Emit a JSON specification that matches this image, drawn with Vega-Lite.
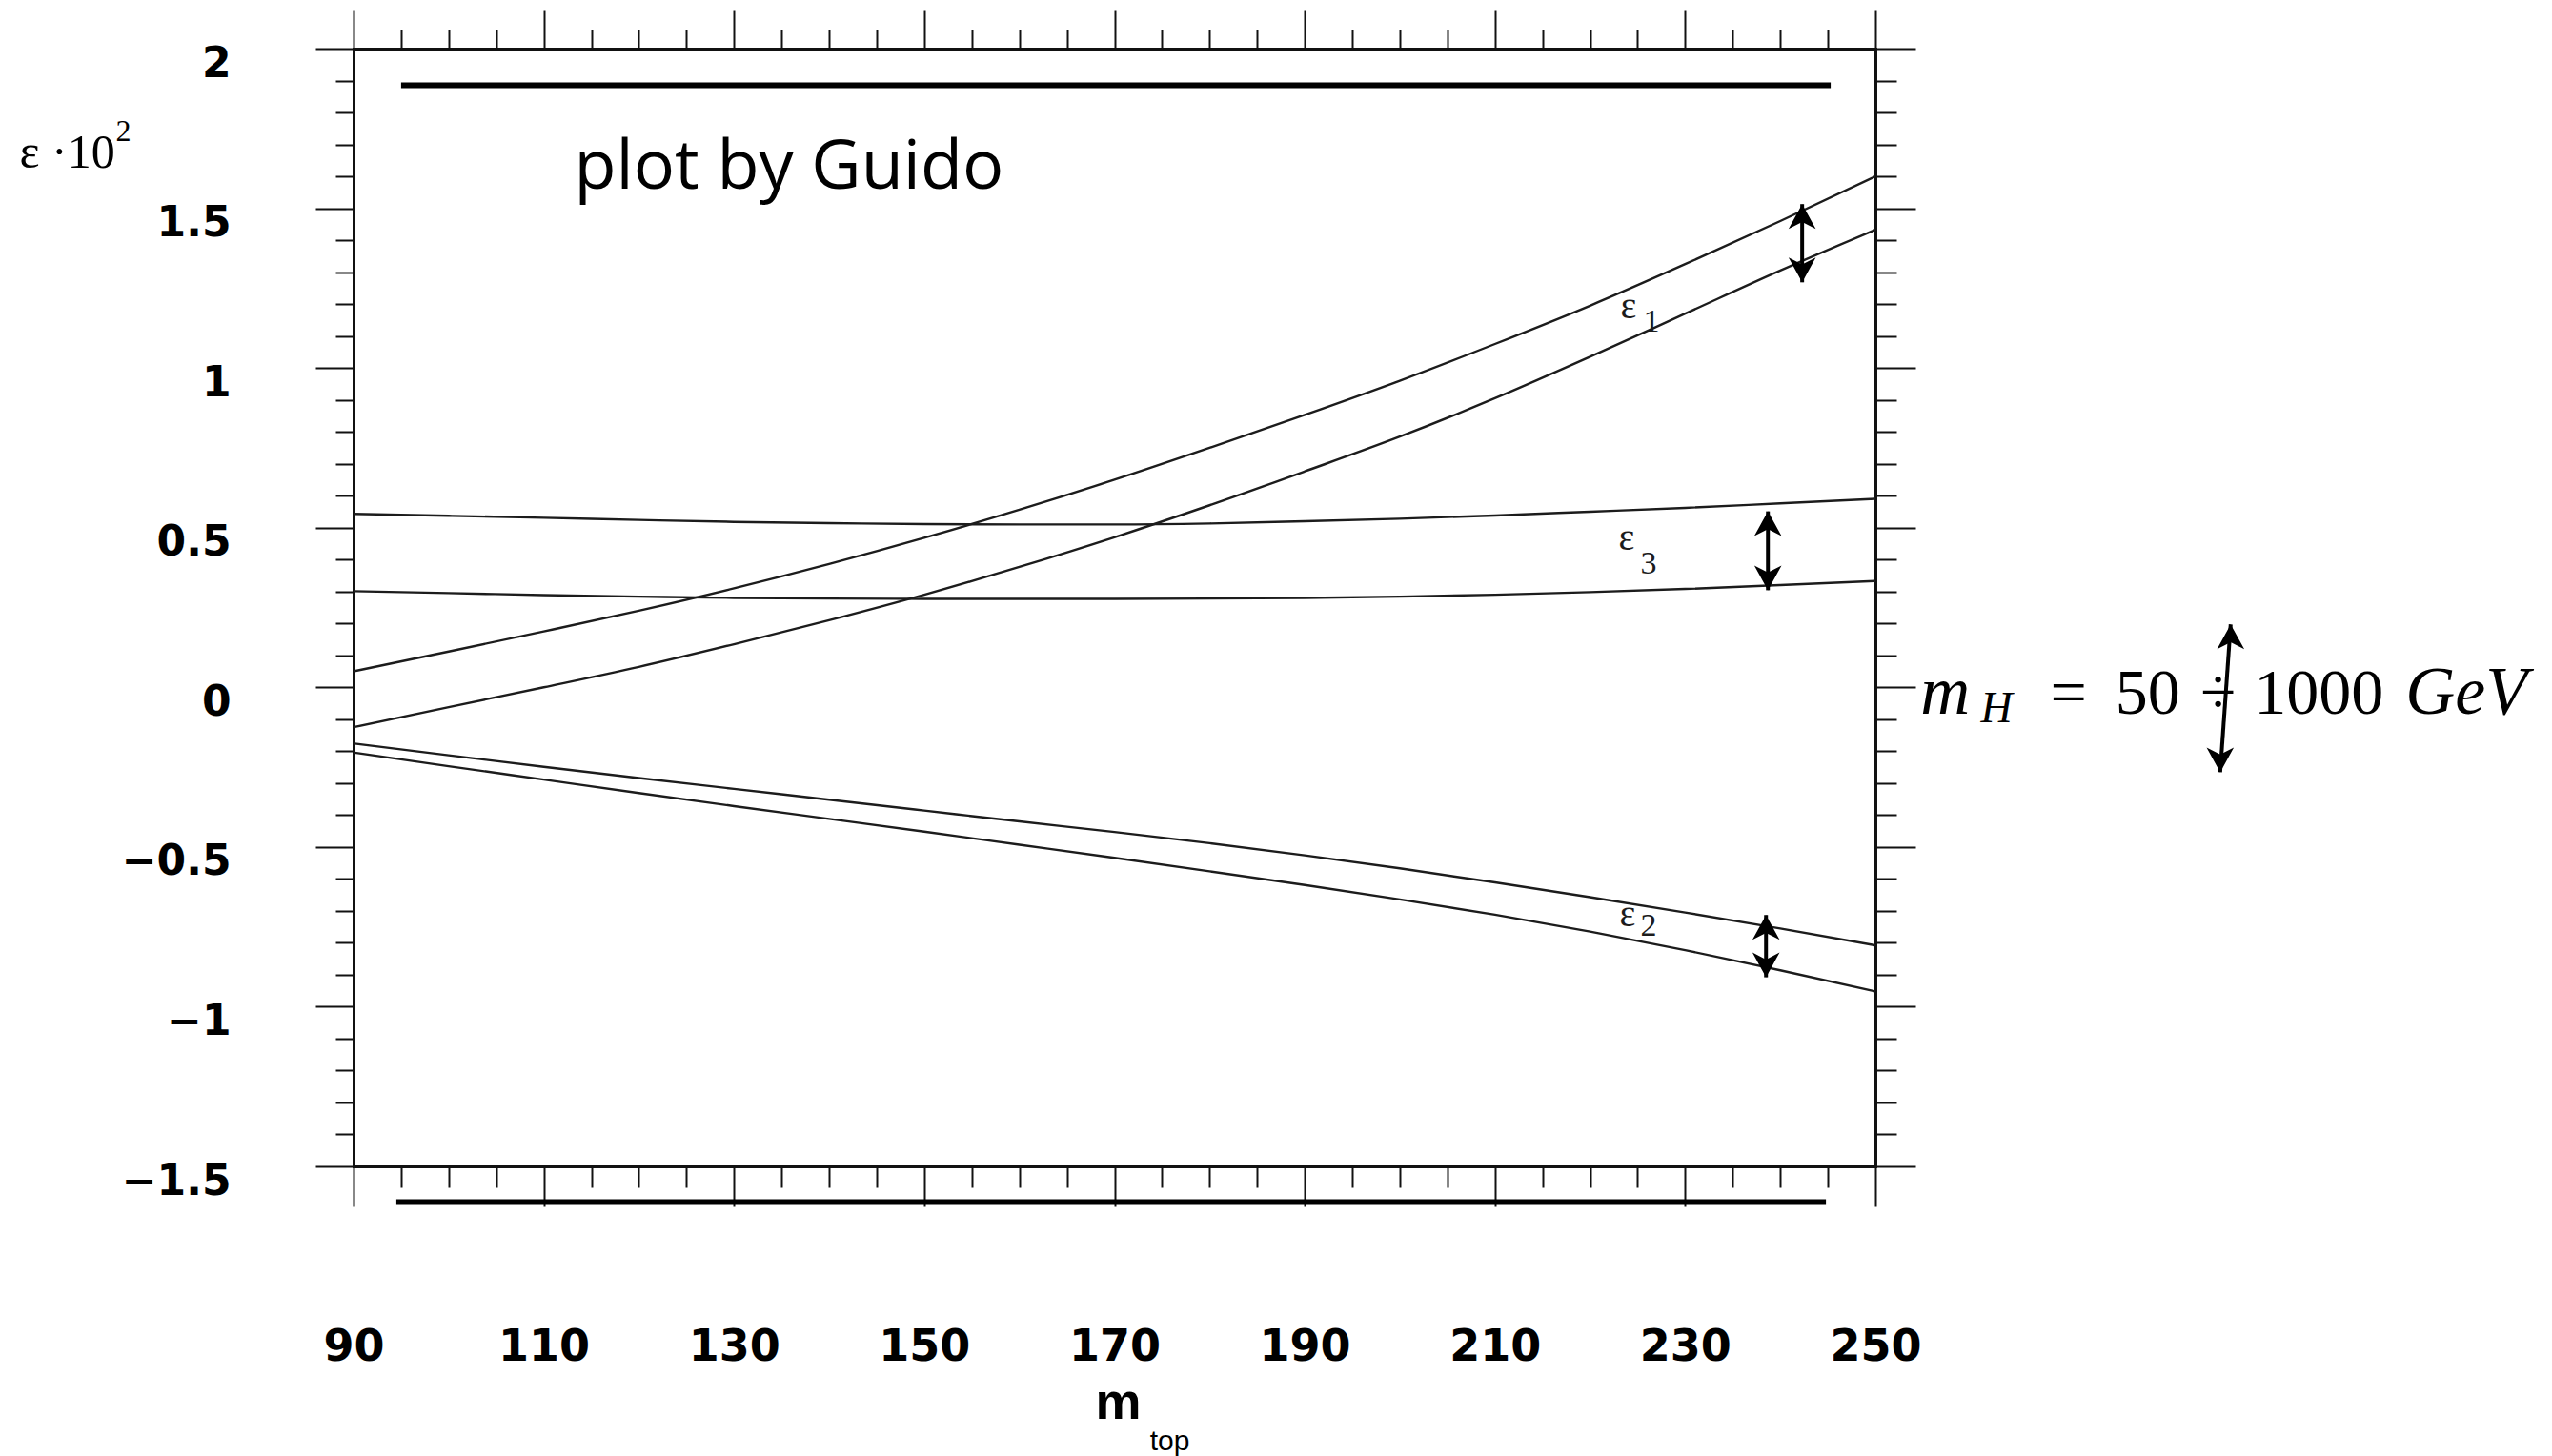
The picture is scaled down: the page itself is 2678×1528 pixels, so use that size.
{
  "$schema": "https://vega.github.io/schema/vega-lite/v6.json",
  "width": 1597,
  "height": 1173,
  "autosize": {"type": "none"},
  "padding": {"left": 371, "top": 51, "right": 710, "bottom": 304},
  "background": "white",
  "config": {
    "view": {"stroke": null},
    "axis": {
      "grid": false,
      "tickColor": "#111111",
      "domainColor": "#111111",
      "tickWidth": 2,
      "domainWidth": 3,
      "domainCap": "square",
      "labels": false,
      "titleColor": "#000000",
      "labelColor": "#000000"
    }
  },
  "datasets": {
    "curves": [
      {"curve": "e1hi", "mtop": 90, "eps": 0.05}, {"curve": "e1hi", "mtop": 100, "eps": 0.112}, {"curve": "e1hi", "mtop": 110, "eps": 0.175},
      {"curve": "e1hi", "mtop": 120, "eps": 0.24}, {"curve": "e1hi", "mtop": 130, "eps": 0.31}, {"curve": "e1hi", "mtop": 140, "eps": 0.386},
      {"curve": "e1hi", "mtop": 150, "eps": 0.468}, {"curve": "e1hi", "mtop": 160, "eps": 0.556}, {"curve": "e1hi", "mtop": 170, "eps": 0.65},
      {"curve": "e1hi", "mtop": 180, "eps": 0.75}, {"curve": "e1hi", "mtop": 190, "eps": 0.853}, {"curve": "e1hi", "mtop": 200, "eps": 0.96},
      {"curve": "e1hi", "mtop": 210, "eps": 1.075}, {"curve": "e1hi", "mtop": 220, "eps": 1.195}, {"curve": "e1hi", "mtop": 230, "eps": 1.325},
      {"curve": "e1hi", "mtop": 240, "eps": 1.46}, {"curve": "e1hi", "mtop": 250, "eps": 1.6},

      {"curve": "e1lo", "mtop": 90, "eps": -0.125}, {"curve": "e1lo", "mtop": 100, "eps": -0.062}, {"curve": "e1lo", "mtop": 110, "eps": 0.0},
      {"curve": "e1lo", "mtop": 120, "eps": 0.064}, {"curve": "e1lo", "mtop": 130, "eps": 0.135}, {"curve": "e1lo", "mtop": 140, "eps": 0.21},
      {"curve": "e1lo", "mtop": 150, "eps": 0.29}, {"curve": "e1lo", "mtop": 160, "eps": 0.377}, {"curve": "e1lo", "mtop": 170, "eps": 0.47},
      {"curve": "e1lo", "mtop": 180, "eps": 0.57}, {"curve": "e1lo", "mtop": 190, "eps": 0.676}, {"curve": "e1lo", "mtop": 200, "eps": 0.785},
      {"curve": "e1lo", "mtop": 210, "eps": 0.905}, {"curve": "e1lo", "mtop": 220, "eps": 1.035}, {"curve": "e1lo", "mtop": 230, "eps": 1.17},
      {"curve": "e1lo", "mtop": 240, "eps": 1.305}, {"curve": "e1lo", "mtop": 250, "eps": 1.433},

      {"curve": "e3hi", "mtop": 90, "eps": 0.543}, {"curve": "e3hi", "mtop": 100, "eps": 0.537}, {"curve": "e3hi", "mtop": 110, "eps": 0.531},
      {"curve": "e3hi", "mtop": 120, "eps": 0.524}, {"curve": "e3hi", "mtop": 130, "eps": 0.518}, {"curve": "e3hi", "mtop": 140, "eps": 0.514},
      {"curve": "e3hi", "mtop": 150, "eps": 0.511}, {"curve": "e3hi", "mtop": 160, "eps": 0.51}, {"curve": "e3hi", "mtop": 170, "eps": 0.51},
      {"curve": "e3hi", "mtop": 180, "eps": 0.513}, {"curve": "e3hi", "mtop": 190, "eps": 0.52}, {"curve": "e3hi", "mtop": 200, "eps": 0.528},
      {"curve": "e3hi", "mtop": 210, "eps": 0.538}, {"curve": "e3hi", "mtop": 220, "eps": 0.55}, {"curve": "e3hi", "mtop": 230, "eps": 0.562},
      {"curve": "e3hi", "mtop": 240, "eps": 0.576}, {"curve": "e3hi", "mtop": 250, "eps": 0.59},

      {"curve": "e3lo", "mtop": 90, "eps": 0.301}, {"curve": "e3lo", "mtop": 100, "eps": 0.295}, {"curve": "e3lo", "mtop": 110, "eps": 0.289},
      {"curve": "e3lo", "mtop": 120, "eps": 0.284}, {"curve": "e3lo", "mtop": 130, "eps": 0.28}, {"curve": "e3lo", "mtop": 140, "eps": 0.278},
      {"curve": "e3lo", "mtop": 150, "eps": 0.277}, {"curve": "e3lo", "mtop": 160, "eps": 0.277}, {"curve": "e3lo", "mtop": 170, "eps": 0.277},
      {"curve": "e3lo", "mtop": 180, "eps": 0.278}, {"curve": "e3lo", "mtop": 190, "eps": 0.28}, {"curve": "e3lo", "mtop": 200, "eps": 0.284},
      {"curve": "e3lo", "mtop": 210, "eps": 0.29}, {"curve": "e3lo", "mtop": 220, "eps": 0.298}, {"curve": "e3lo", "mtop": 230, "eps": 0.308},
      {"curve": "e3lo", "mtop": 240, "eps": 0.32}, {"curve": "e3lo", "mtop": 250, "eps": 0.333},

      {"curve": "e2hi", "mtop": 90, "eps": -0.176}, {"curve": "e2hi", "mtop": 100, "eps": -0.213}, {"curve": "e2hi", "mtop": 110, "eps": -0.249},
      {"curve": "e2hi", "mtop": 120, "eps": -0.284}, {"curve": "e2hi", "mtop": 130, "eps": -0.318}, {"curve": "e2hi", "mtop": 140, "eps": -0.352},
      {"curve": "e2hi", "mtop": 150, "eps": -0.386}, {"curve": "e2hi", "mtop": 160, "eps": -0.42}, {"curve": "e2hi", "mtop": 170, "eps": -0.453},
      {"curve": "e2hi", "mtop": 180, "eps": -0.488}, {"curve": "e2hi", "mtop": 190, "eps": -0.526}, {"curve": "e2hi", "mtop": 200, "eps": -0.567},
      {"curve": "e2hi", "mtop": 210, "eps": -0.611}, {"curve": "e2hi", "mtop": 220, "eps": -0.657}, {"curve": "e2hi", "mtop": 230, "eps": -0.705},
      {"curve": "e2hi", "mtop": 240, "eps": -0.755}, {"curve": "e2hi", "mtop": 250, "eps": -0.808},

      {"curve": "e2lo", "mtop": 90, "eps": -0.204}, {"curve": "e2lo", "mtop": 100, "eps": -0.247}, {"curve": "e2lo", "mtop": 110, "eps": -0.289},
      {"curve": "e2lo", "mtop": 120, "eps": -0.331}, {"curve": "e2lo", "mtop": 130, "eps": -0.372}, {"curve": "e2lo", "mtop": 140, "eps": -0.412},
      {"curve": "e2lo", "mtop": 150, "eps": -0.452}, {"curve": "e2lo", "mtop": 160, "eps": -0.493}, {"curve": "e2lo", "mtop": 170, "eps": -0.534},
      {"curve": "e2lo", "mtop": 180, "eps": -0.576}, {"curve": "e2lo", "mtop": 190, "eps": -0.619}, {"curve": "e2lo", "mtop": 200, "eps": -0.664},
      {"curve": "e2lo", "mtop": 210, "eps": -0.712}, {"curve": "e2lo", "mtop": 220, "eps": -0.765}, {"curve": "e2lo", "mtop": 230, "eps": -0.823},
      {"curve": "e2lo", "mtop": 240, "eps": -0.886}, {"curve": "e2lo", "mtop": 250, "eps": -0.952}
    ],
    "bars": [
      {"from": 95.0, "to": 245.3, "eps": 1.885},
      {"from": 94.5, "to": 244.8, "eps": -1.612}
    ],
    "arrows": [
      {"xlo": 242.3, "xhi": 242.3, "lo": 1.268, "hi": 1.513},
      {"xlo": 238.7, "xhi": 238.7, "lo": 0.304, "hi": 0.551},
      {"xlo": 238.5, "xhi": 238.5, "lo": -0.908, "hi": -0.713},
      {"xlo": 286.25, "xhi": 287.35, "lo": -0.266, "hi": 0.197}
    ],
    "tags": [
      {"mtop": 223.2, "eps": 1.155, "sub": "1", "subm": 225.6, "subeps": 1.113},
      {"mtop": 223.0, "eps": 0.43, "sub": "3", "subm": 225.3, "subeps": 0.355},
      {"mtop": 223.1, "eps": -0.749, "sub": "2", "subm": 225.3, "subeps": -0.779}
    ],
    "notes": [
      {"text": "plot by Guido", "mtop": 113.2, "eps": 1.561}
    ],
    "formulaItalic": [
      {"text": "m", "mtop": 257.33, "eps": -0.0815},
      {"text": "GeV", "mtop": 312.14, "eps": -0.0815}
    ],
    "formulaSub": [
      {"text": "H", "mtop": 262.74, "eps": -0.1104}
    ],
    "formulaRoman": [
      {"text": "=", "mtop": 270.31, "eps": -0.0815},
      {"text": "50", "mtop": 278.63, "eps": -0.0815},
      {"text": "÷", "mtop": 286.04, "eps": -0.0815},
      {"text": "1000", "mtop": 296.61, "eps": -0.0815}
    ]
  },
  "resolve": {
    "scale": {"x": "shared", "y": "shared"},
    "axis": {"x": "independent", "y": "independent"}
  },
  "layer": [
    {
      "data": {"name": "curves"},
      "mark": {"type": "line", "color": "#1c1c1c", "strokeWidth": 2.4, "interpolate": "monotone"},
      "encoding": {
        "x": {
          "field": "mtop", "type": "quantitative",
          "scale": {"domain": [90, 250], "nice": false, "zero": false},
          "axis": {
            "orient": "bottom",
            "values": [90, 110, 130, 150, 170, 190, 210, 230, 250],
            "tickSize": 42,
            "labels": true,
            "format": "d",
            "labelFont": "DejaVu Sans",
            "labelFontWeight": "bold",
            "labelFontSize": 46,
            "labelBaseline": "alphabetic",
            "labelPadding": 161,
            "labelFlush": false,
            "labelOverlap": false,
            "title": "m",
            "titleFont": "Liberation Sans",
            "titleFontWeight": "bold",
            "titleFontSize": 54,
            "titleAlign": "center",
            "titleBaseline": "alphabetic",
            "titleX": 802,
            "titleY": 264
          }
        },
        "y": {
          "field": "eps", "type": "quantitative",
          "scale": {"domain": [-1.5, 2], "nice": false, "zero": false},
          "axis": {
            "orient": "left",
            "values": [-1.5, -1, -0.5, 0, 0.5, 1, 1.5, 2],
            "tickSize": 40,
            "labels": true,
            "format": "~g",
            "labelFont": "DejaVu Sans",
            "labelFontWeight": "bold",
            "labelFontSize": 44,
            "labelBaseline": "alphabetic",
            "labelPadding": 89,
            "labelOffset": 29,
            "labelOverlap": false,
            "title": "ε ·10",
            "titleFont": "Liberation Serif",
            "titleFontWeight": "normal",
            "titleFontSize": 50,
            "titleAngle": 0,
            "titleAlign": "left",
            "titleBaseline": "alphabetic",
            "titleX": -351,
            "titleY": 124
          }
        },
        "detail": {"field": "curve"}
      }
    },
    {
      "data": {"name": "curves"},
      "mark": {"type": "point", "opacity": 0},
      "encoding": {
        "x": {
          "field": "mtop", "type": "quantitative",
          "scale": {"domain": [90, 250], "nice": false, "zero": false},
          "axis": {
            "orient": "bottom",
            "values": [95, 100, 105, 115, 120, 125, 135, 140, 145, 155, 160, 165, 175, 180, 185, 195, 200, 205, 215, 220, 225, 235, 240, 245],
            "tickSize": 22,
            "domain": false,
            "title": "top",
            "titleFont": "Liberation Sans",
            "titleFontWeight": "normal",
            "titleFontSize": 30,
            "titleAlign": "center",
            "titleBaseline": "alphabetic",
            "titleX": 856,
            "titleY": 297
          }
        },
        "y": {
          "field": "eps", "type": "quantitative",
          "scale": {"domain": [-1.5, 2], "nice": false, "zero": false},
          "axis": {
            "orient": "left",
            "values": [-1.4, -1.3, -1.2, -1.1, -0.9, -0.8, -0.7, -0.6, -0.4, -0.3, -0.2, -0.1, 0.1, 0.2, 0.3, 0.4, 0.6, 0.7, 0.8, 0.9, 1.1, 1.2, 1.3, 1.4, 1.6, 1.7, 1.8, 1.9],
            "tickSize": 19,
            "domain": false,
            "title": "2",
            "titleFont": "Liberation Serif",
            "titleFontWeight": "normal",
            "titleFontSize": 32,
            "titleAngle": 0,
            "titleAlign": "left",
            "titleBaseline": "alphabetic",
            "titleX": -250,
            "titleY": 96
          }
        }
      }
    },
    {
      "data": {"name": "curves"},
      "mark": {"type": "point", "opacity": 0},
      "encoding": {
        "x": {
          "field": "mtop", "type": "quantitative",
          "scale": {"domain": [90, 250], "nice": false, "zero": false},
          "axis": {
            "orient": "top",
            "values": [90, 110, 130, 150, 170, 190, 210, 230, 250],
            "tickSize": 40,
            "title": null
          }
        },
        "y": {
          "field": "eps", "type": "quantitative",
          "scale": {"domain": [-1.5, 2], "nice": false, "zero": false},
          "axis": {
            "orient": "right",
            "values": [-1.5, -1, -0.5, 0, 0.5, 1, 1.5, 2],
            "tickSize": 42,
            "title": null
          }
        }
      }
    },
    {
      "data": {"name": "curves"},
      "mark": {"type": "point", "opacity": 0},
      "encoding": {
        "x": {
          "field": "mtop", "type": "quantitative",
          "scale": {"domain": [90, 250], "nice": false, "zero": false},
          "axis": {
            "orient": "top",
            "values": [95, 100, 105, 115, 120, 125, 135, 140, 145, 155, 160, 165, 175, 180, 185, 195, 200, 205, 215, 220, 225, 235, 240, 245],
            "tickSize": 20,
            "domain": false,
            "title": null
          }
        },
        "y": {
          "field": "eps", "type": "quantitative",
          "scale": {"domain": [-1.5, 2], "nice": false, "zero": false},
          "axis": {
            "orient": "right",
            "values": [-1.4, -1.3, -1.2, -1.1, -0.9, -0.8, -0.7, -0.6, -0.4, -0.3, -0.2, -0.1, 0.1, 0.2, 0.3, 0.4, 0.6, 0.7, 0.8, 0.9, 1.1, 1.2, 1.3, 1.4, 1.6, 1.7, 1.8, 1.9],
            "tickSize": 22,
            "domain": false,
            "title": null
          }
        }
      }
    },
    {
      "data": {"name": "bars"},
      "mark": {"type": "rule", "color": "#000000", "strokeWidth": 6},
      "encoding": {
        "x": {"field": "from", "type": "quantitative", "axis": null},
        "x2": {"field": "to"},
        "y": {"field": "eps", "type": "quantitative", "axis": null}
      }
    },
    {
      "data": {"name": "arrows"},
      "mark": {"type": "rule", "color": "#000000", "strokeWidth": 4},
      "encoding": {
        "x": {"field": "xlo", "type": "quantitative", "axis": null},
        "x2": {"field": "xhi"},
        "y": {"field": "lo", "type": "quantitative", "axis": null},
        "y2": {"field": "hi"}
      }
    },
    {
      "data": {"name": "arrows"},
      "mark": {"type": "point", "shape": "M0,0L-0.55,1L0,0.72L0.55,1Z", "size": 2700, "filled": true, "color": "#000000", "opacity": 1, "strokeWidth": 0},
      "encoding": {
        "x": {"field": "xhi", "type": "quantitative", "axis": null},
        "y": {"field": "hi", "type": "quantitative", "axis": null}
      }
    },
    {
      "data": {"name": "arrows"},
      "mark": {"type": "point", "shape": "M0,0L-0.55,-1L0,-0.72L0.55,-1Z", "size": 2700, "filled": true, "color": "#000000", "opacity": 1, "strokeWidth": 0},
      "encoding": {
        "x": {"field": "xlo", "type": "quantitative", "axis": null},
        "y": {"field": "lo", "type": "quantitative", "axis": null}
      }
    },
    {
      "data": {"name": "tags"},
      "mark": {"type": "text", "text": "ε", "font": "Liberation Serif", "fontSize": 40, "align": "left", "baseline": "alphabetic", "color": "#1c1c1c"},
      "encoding": {
        "x": {"field": "mtop", "type": "quantitative", "axis": null},
        "y": {"field": "eps", "type": "quantitative", "axis": null}
      }
    },
    {
      "data": {"name": "tags"},
      "mark": {"type": "text", "font": "Liberation Serif", "fontSize": 34, "align": "left", "baseline": "alphabetic", "color": "#1c1c1c"},
      "encoding": {
        "x": {"field": "subm", "type": "quantitative", "axis": null},
        "y": {"field": "subeps", "type": "quantitative", "axis": null},
        "text": {"field": "sub"}
      }
    },
    {
      "data": {"name": "notes"},
      "mark": {"type": "text", "font": "Open Sans", "fontSize": 72, "align": "left", "baseline": "alphabetic", "color": "#000000"},
      "encoding": {
        "x": {"field": "mtop", "type": "quantitative", "axis": null},
        "y": {"field": "eps", "type": "quantitative", "axis": null},
        "text": {"field": "text"}
      }
    },
    {
      "data": {"name": "formulaItalic"},
      "mark": {"type": "text", "font": "Liberation Serif", "fontStyle": "italic", "fontSize": 72, "align": "center", "baseline": "alphabetic", "color": "#000000"},
      "encoding": {
        "x": {"field": "mtop", "type": "quantitative", "axis": null},
        "y": {"field": "eps", "type": "quantitative", "axis": null},
        "text": {"field": "text"}
      }
    },
    {
      "data": {"name": "formulaSub"},
      "mark": {"type": "text", "font": "Liberation Serif", "fontStyle": "italic", "fontSize": 46, "align": "center", "baseline": "alphabetic", "color": "#000000"},
      "encoding": {
        "x": {"field": "mtop", "type": "quantitative", "axis": null},
        "y": {"field": "eps", "type": "quantitative", "axis": null},
        "text": {"field": "text"}
      }
    },
    {
      "data": {"name": "formulaRoman"},
      "mark": {"type": "text", "font": "Liberation Serif", "fontSize": 68, "align": "center", "baseline": "alphabetic", "color": "#000000"},
      "encoding": {
        "x": {"field": "mtop", "type": "quantitative", "axis": null},
        "y": {"field": "eps", "type": "quantitative", "axis": null},
        "text": {"field": "text"}
      }
    }
  ]
}
